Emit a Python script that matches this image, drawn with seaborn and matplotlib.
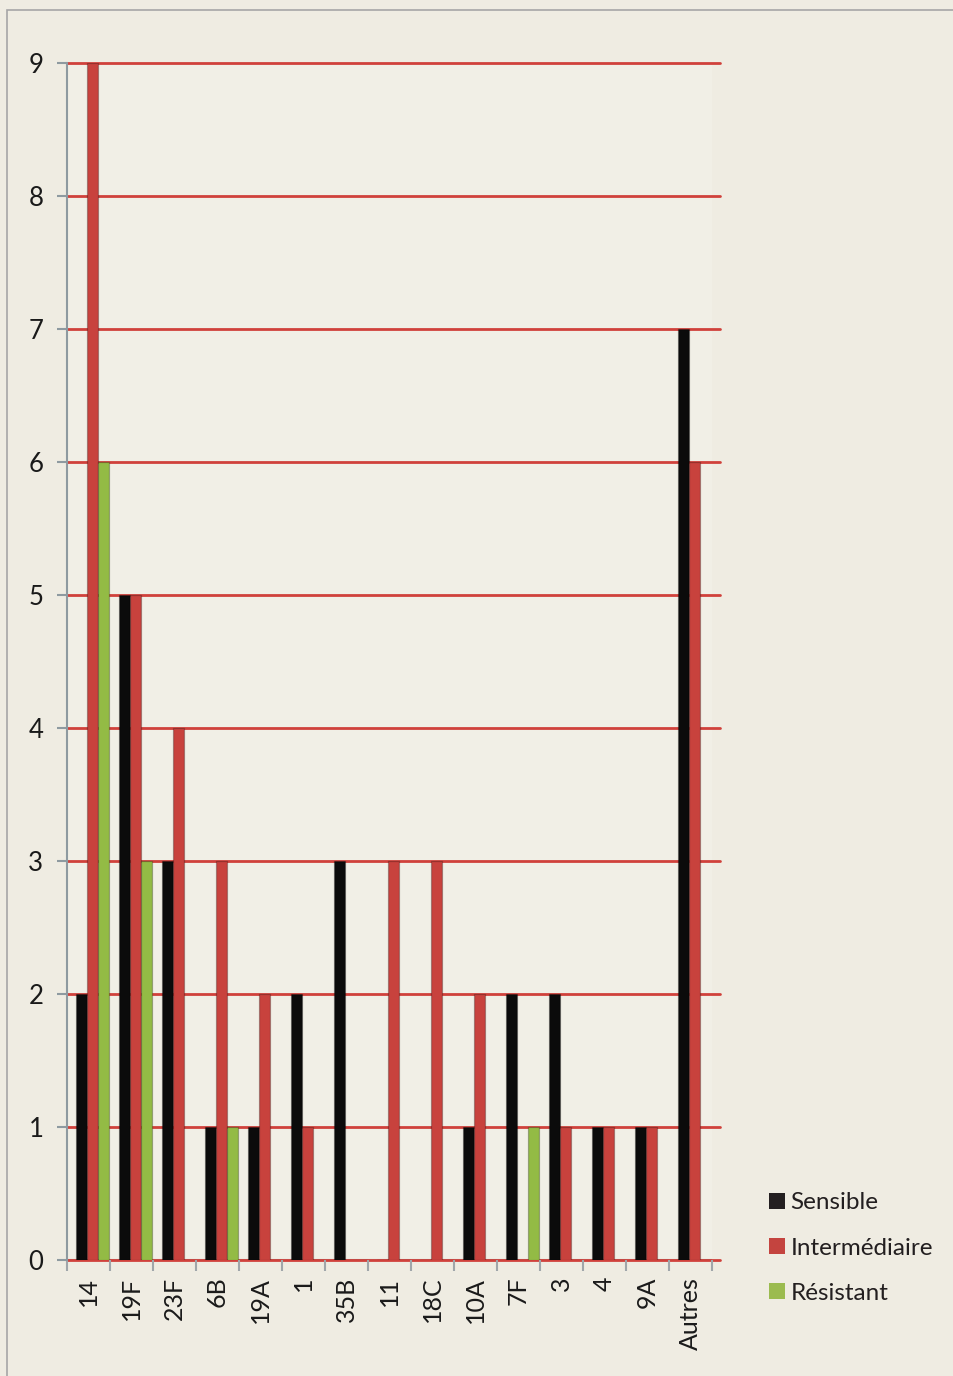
import numpy as np
import pandas as pd
import matplotlib
matplotlib.use("Agg")
import matplotlib.pyplot as plt
import matplotlib.transforms as mtransforms
from matplotlib.patches import Rectangle, Patch
import seaborn as sns

# Serotypes and counts per susceptibility class
serotypes = ["14", "19F", "23F", "6B", "19A", "1", "35B", "11", "18C",
             "10A", "7F", "3", "4", "9A", "Autres"]
sensible = [2, 5, 3, 1, 1, 2, 3, 0, 0, 1, 2, 2, 1, 1, 7]
intermediaire = [9, 5, 4, 3, 2, 1, 0, 3, 3, 2, 0, 1, 1, 1, 6]
resistant = [6, 3, 0, 1, 0, 0, 0, 0, 0, 0, 1, 0, 0, 0, 0]
classes = ["Sensible", "Intermédiaire", "Résistant"]
y_ticks = [0, 1, 2, 3, 4, 5, 6, 7, 8, 9]

palette = {"Sensible": "#0b0b0b", "Intermédiaire": "#c8423d", "Résistant": "#93bb45"}
legend_colors = {"Sensible": "#231f20", "Intermédiaire": "#c4443f", "Résistant": "#9bbb4f"}
bg = "#efece2"
grid_red = "#d0413b"

df = pd.DataFrame({
    "serotype": serotypes * 3,
    "classe": np.repeat(classes, len(serotypes)),
    "n": sensible + intermediaire + resistant,
})

sns.set_theme(style="white")
plt.rcParams["font.family"] = ["Lato", "DejaVu Sans"]

fig = plt.figure(figsize=(9.54, 13.76), dpi=100, facecolor=bg)
ax = fig.add_axes([0.0702, 0.0843, 0.676, 0.8699])
ax.set_facecolor("#f1efe6")

# frame around the chart
fig.patches.append(Rectangle((0.0073, -0.01), 1.0, 1.0027, transform=fig.transFigure,
                             fill=False, edgecolor="#a6a6a6", linewidth=1.2))

sns.barplot(data=df, x="serotype", y="n", hue="classe", order=serotypes,
            hue_order=classes, palette=palette, width=0.75, gap=0.0,
            saturation=1, ax=ax, legend=False, edgecolor="#00000040", linewidth=0.9)

# small rightward shift of the bars, like a shallow 3-D depth
shift = mtransforms.ScaledTranslation(0.04, 0, fig.dpi_scale_trans)
for bar in ax.patches:
    bar.set_transform(ax.transData + shift)

# red horizontal gridlines behind the bars
for v in y_ticks:
    ax.axhline(v, xmin=0, xmax=1.012, color=grid_red, lw=2.0, zorder=0.5, clip_on=False)

ax.set_xlim(-0.5, len(serotypes) - 0.5)
ax.set_ylim(0, 9)
ax.set_yticks(y_ticks)
ax.set_xlabel("")
ax.set_ylabel("")

for side in ["top", "right", "bottom"]:
    ax.spines[side].set_visible(False)
ax.spines["left"].set_color("#8e9aa0")
ax.spines["left"].set_linewidth(1.5)

ax.tick_params(axis="y", which="major", left=True, length=7, width=1.5,
               color="#8e9aa0", pad=10, labelsize=18.5, labelcolor="#1a1a1a")
ax.set_xticks(range(len(serotypes)))
ax.set_xticklabels(serotypes, rotation=90, fontsize=18, color="#1a1a1a")
ax.tick_params(axis="x", which="major", bottom=False, length=0, pad=12)
ax.set_xticks(np.arange(-0.5, len(serotypes) + 0.5, 1), minor=True)
ax.tick_params(axis="x", which="minor", bottom=True, length=8, width=1.5, color="#a0a6aa")
ax.axhline(0, color="#a0a6aa", lw=1.5, zorder=0.4)

handles = [Patch(facecolor=legend_colors[c], edgecolor="none") for c in classes]
fig.legend(handles, classes, loc="center left", bbox_to_anchor=(0.783, 0.093),
           frameon=False, fontsize=17.5, handlelength=0.65, handleheight=0.65,
           handletextpad=0.25, labelspacing=1.0, labelcolor="#231f20")

fig.savefig("out.png", dpi=100, facecolor=bg)
